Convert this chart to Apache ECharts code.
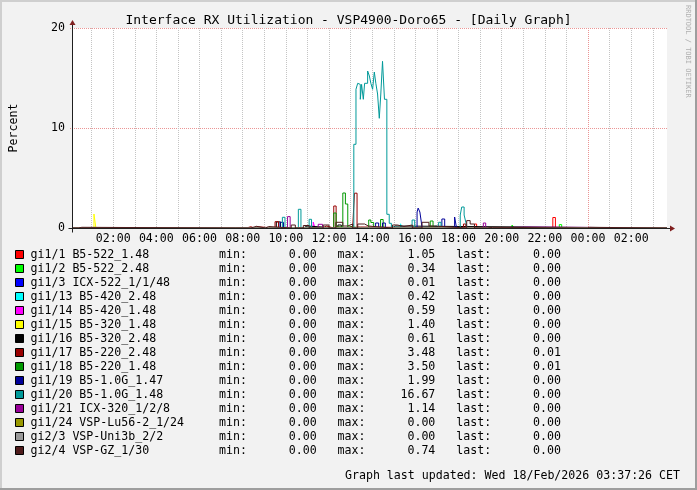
<!DOCTYPE html>
<html><head><meta charset="utf-8">
<script src="https://cdn.jsdelivr.net/npm/echarts@6/dist/echarts.min.js"></script>
<style>html,body{margin:0;padding:0;background:#F2F2F2}#c{width:697px;height:490px}</style>
</head><body><div id="c"></div>
<script>
// ---------- data ----------
const seriesNames = ['gi1/1 B5-522_1.48','gi1/2 B5-522_2.48','gi1/3 ICX-522_1/1/48','gi1/13 B5-420_2.48','gi1/14 B5-420_1.48','gi1/15 B5-320_1.48','gi1/16 B5-320_2.48','gi1/17 B5-220_2.48','gi1/18 B5-220_1.48','gi1/19 B5-1.0G_1.47','gi1/20 B5-1.0G_1.48','gi1/21 ICX-320_1/2/8','gi1/24 VSP-Lu56-2_1/24','gi2/3 VSP-Uni3b_2/2','gi2/4 VSP-GZ_1/30'];
const seriesColors = ['#FF0000','#00FF00','#0000FF','#00FFFF','#FF00FF','#FFFF00','#000000','#990000','#009900','#000099','#009999','#990099','#999900','#999999','#4F1C1C'];
const statMin  = ['0.00','0.00','0.00','0.00','0.00','0.00','0.00','0.00','0.00','0.00','0.00','0.00','0.00','0.00','0.00'];
const statMax  = ['1.05','0.34','0.01','0.42','0.59','1.40','0.61','3.48','3.50','1.99','16.67','1.14','0.00','0.00','0.74'];
const statLast = ['0.00','0.00','0.00','0.00','0.00','0.00','0.00','0.01','0.01','0.00','0.00','0.00','0.00','0.00','0.00'];
// x = hours since 17 Feb 00:00, y = percent (step values, each holds until the next point)
const gi1_1  = [[0.10,0],[18.74,0.40],[18.84,0],[22.37,1.05],[22.49,0],[27.66,0]];
const gi1_2  = [[0.10,0],[20.48,0.30],[20.57,0],[22.67,0.34],[22.78,0],[27.66,0]];
const gi1_3  = [[0.10,0],[13.57,0.01],[13.65,0],[27.66,0]];
const gi1_13 = [[0.10,0],[9.98,0.15],[10.06,0],[12.47,0.20],[12.55,0],[15.31,0.42],[15.40,0],[16.96,0.25],[17.04,0],[27.66,0]];
const gi1_14 = [[0.10,0],[11.27,0.59],[11.35,0],[19.26,0.10],[21.14,0],[27.66,0]];
const gi1_15 = [[0.10,0],[1.11,1.40],[1.20,0],[27.66,0]];
const gi1_16 = [[0.10,0],[9.56,0.61],[9.75,0],[10.81,0.20],[10.98,0],[12.41,0.30],[12.57,0],[14.94,0.20],[15.07,0],[27.66,0]];
const gi1_17 = [[0.10,0],[8.18,0.13],[8.38,0],[8.53,0.13],[8.64,0],[9.50,0.63],[9.66,0],[11.73,0.20],[11.88,0],[12.22,2.20],[12.33,0.10],[12.47,0],[12.87,0.20],[13.10,0],[13.18,3.48],[13.30,0.10],[13.47,0],[18.23,0.40],[18.34,0],[27.50,0.01],[27.66,0.01]];
const gi1_18 = [[0.10,0],[12.22,1.50],[12.33,0.10],[12.64,3.50],[12.76,2.40],[12.87,0.10],[13.02,0],[13.84,0.80],[13.94,0.55],[14.07,0],[14.39,0.85],[14.51,0],[16.69,0.70],[16.82,0],[27.50,0.01],[27.66,0.01]];
const gi1_19 = [[0.10,0],[9.73,0.57],[9.89,0],[14.16,0.50],[14.30,0],[14.48,0.50],[14.61,0],[16.08,1.60],[16.13,1.99],[16.21,1.60],[16.27,0.70],[16.31,0],[17.23,0.90],[17.36,0],[17.82,1.10],[17.91,0],[27.66,0]];
const gi1_20 = [[0.10,0],[9.84,1.07],[9.96,0.05],[10.58,1.87],[10.70,0.05],[11.08,0.87],[11.19,0.05],[11.38,0],
  [13.15,8.37],[13.25,13.87],[13.33,14.47],[13.40,14.36],[13.45,12.87],[13.51,14.36],[13.59,12.87],[13.65,14.47],[13.79,15.70],[13.87,15.20],[13.94,14.47],[14.02,13.87],[14.10,15.60],[14.17,14.47],[14.25,13.40],[14.33,10.97],[14.40,13.40],[14.48,16.67],[14.57,12.87],[14.68,1.37],[14.79,0.47],[14.89,0.10],[15.07,0],
  [15.85,0.80],[15.97,0],[17.08,0.57],[17.19,0],[18.08,1.30],[18.15,2.10],[18.26,1.30],[18.34,0.57],[18.40,0],[27.66,0]];
const gi1_21 = [[0.10,0],[10.08,1.14],[10.20,0],[11.50,0.37],[11.70,0],[19.15,0.50],[19.26,0],[27.66,0]];
const gi1_24 = [[0.10,0],[27.66,0]];
const gi2_3  = [[0.10,0],[27.66,0]];
const gi2_4  = [[0.10,0],[0.39,0.07],[0.55,0],[7.66,0.07],[7.74,0],[8.37,0.17],[8.64,0],[9.06,0.15],[9.20,0],[10.25,0.30],[10.44,0],[10.81,0.25],[11.08,0],[11.73,0.30],[12.00,0],[12.32,0.57],[12.64,0.20],[12.87,0.40],[13.10,0],[13.33,0.40],[13.65,0.20],[13.82,0],[14.94,0.30],[15.17,0.15],[15.47,0.30],[15.86,0],[16.31,0.57],[16.63,0.20],[16.86,0],[18.38,0.74],[18.54,0.40],[18.74,0],[19.35,0.07],[19.58,0],[23.98,0.07],[24.08,0],[27.66,0]];
const seriesData = [gi1_1,gi1_2,gi1_3,gi1_13,gi1_14,gi1_15,gi1_16,gi1_17,gi1_18,gi1_19,gi1_20,gi1_21,gi1_24,gi2_3,gi2_4];
const xTickHours  = [2,4,6,8,10,12,14,16,18,20,22,24,26];
const xTickLabels = ['02:00','04:00','06:00','08:00','10:00','12:00','14:00','16:00','18:00','20:00','22:00','00:00','02:00'];
const yTicks = [0,10,20];
const xStart = 0.10, xEnd = 27.66;   // visible time window (hours)
const dayBoundaryHour = 24;
const titleText = 'Interface RX Utilization - VSP4900-Doro65 - [Daily Graph]';
const footerText = 'Graph last updated: Wed 18/Feb/2026 03:37:26 CET';

// ---------- styling ----------
const MONO = 'DejaVu Sans Mono';
const FS = 11.6;
const GRID = '#C4C4C4';
const MGRID = '#EB9595';
const ARROW = '#801F1F';
const AXIS = '#1F1F1F';
const PLOT_L = 67, PLOT_R = 667;
// axis runs from hour 0 (min is a multiple of the 1 h interval); grid is placed so xStart sits at PLOT_L
const pxPerHour = (PLOT_R - PLOT_L) / (xEnd - xStart);
const gridLeft = PLOT_L - xStart * pxPerHour;
// split line colours, one per drawn hour line (min line hidden, so index 0 = hour 1)
const hourLineColors = [];
for (let h = 1; h <= Math.floor(xEnd); h++) hourLineColors.push(h === dayBoundaryHour ? MGRID : GRID);

const chart = echarts.init(document.getElementById('c'), null, {renderer:'canvas'});
chart.setOption({
  animation: false,
  backgroundColor: '#F2F2F2',
  title: { text: titleText, left: 'center', top: 9, textStyle: { fontFamily: MONO, fontSize: 13, fontWeight: 'normal', color: '#000' } },
  grid: { left: gridLeft, right: 697 - PLOT_R, top: 28, bottom: 262, show: false },
  xAxis: {
    type: 'value', min: 0, max: xEnd, interval: 1,
    axisLine: { show: false }, axisTick: { show: false },
    splitLine: { show: true, showMinLine: false, showMaxLine: false, lineStyle: { color: hourLineColors, width: 1, type: [1,1] } },
    axisLabel: { margin: 5, fontFamily: MONO, fontSize: FS, color: '#000', showMinLabel: false,
      formatter: v => { const i = xTickHours.indexOf(Math.round(v)); return (i >= 0 && Math.abs(v - Math.round(v)) < 1e-6) ? xTickLabels[i] : ''; } }
  },
  yAxis: {
    type: 'value', min: yTicks[0], max: yTicks[yTicks.length-1], interval: 10,
    name: 'Percent', nameLocation: 'middle', nameGap: 50, nameRotate: 90,
    nameTextStyle: { fontFamily: MONO, fontSize: FS, color: '#000' },
    axisLine: { show: false }, axisTick: { show: false },
    splitLine: { show: true, lineStyle: { color: MGRID, width: 1, type: [1,1] } },
    axisLabel: { margin: 5, fontFamily: MONO, fontSize: FS, color: '#000' }
  },
  legend: {
    orient: 'vertical', left: 15, top: 247.5, padding: 0, itemGap: 0, itemWidth: 8, itemHeight: 8, icon: 'rect',
    selectedMode: false,
    itemStyle: { borderColor: '#000', borderWidth: 1 },
    textStyle: { fontFamily: MONO, fontSize: FS, color: '#000', lineHeight: 14, padding: [0,0,0,2] },
    data: seriesNames,
    formatter: name => {
      const i = seriesNames.indexOf(name);
      return name.padEnd(27) + 'min:' + statMin[i].padStart(10) + '   max:' + statMax[i].padStart(10) + '   last:' + statLast[i].padStart(10);
    }
  },
  series: seriesNames.map((n, i) => ({
    name: n, type: 'line', step: 'end', data: seriesData[i], symbol: 'none',
    color: seriesColors[i], lineStyle: { width: 1, color: seriesColors[i] }, z: 10 + i
  }))
});

// canvas, axes with arrows, footer, watermark and frame
const p00 = chart.convertToPixel({xAxisIndex:0, yAxisIndex:0}, [xStart, 0]);
const p11 = chart.convertToPixel({xAxisIndex:0, yAxisIndex:0}, [xEnd, yTicks[yTicks.length-1]]);
const ox = Math.round(p00[0]) + 0.5, oy = Math.round(p00[1]) + 0.5;
const ex = Math.round(p11[0]), ty = Math.round(p11[1]);
chart.setOption({
  graphic: [
    { type: 'rect', shape: { x: Math.round(p00[0]), y: ty, width: ex - Math.round(p00[0]), height: Math.round(p00[1]) - ty }, style: { fill: '#FFFFFF' }, z: -100, silent: true },
    { type: 'line', shape: { x1: ox - 4, y1: oy, x2: ex + 4, y2: oy }, style: { stroke: AXIS, lineWidth: 1 }, z: 100 },
    { type: 'line', shape: { x1: ox, y1: oy + 4, x2: ox, y2: ty - 4 }, style: { stroke: AXIS, lineWidth: 1 }, z: 100 },
    { type: 'polygon', shape: { points: [[ex + 3, oy - 3], [ex + 3, oy + 3], [ex + 8, oy]] }, style: { fill: ARROW }, z: 101 },
    { type: 'polygon', shape: { points: [[ox - 3, ty - 3], [ox + 3, ty - 3], [ox, ty - 8]] }, style: { fill: ARROW }, z: 101 },
    { type: 'text', right: 17, top: 470, style: { text: footerText, font: FS + 'px ' + MONO, fill: '#000' }, z: 100 },
    { type: 'text', x: 688, y: 5, rotation: -Math.PI / 2, style: { text: 'RRDTOOL / TOBI OETIKER', font: '7px ' + MONO, fill: '#B0B0B0', align: 'left', verticalAlign: 'middle' }, z: 100 },
    { type: 'rect', shape: { x: 0, y: 0, width: 697, height: 2 }, style: { fill: '#CFCFCF' }, z: 100 },
    { type: 'rect', shape: { x: 0, y: 0, width: 2, height: 490 }, style: { fill: '#CFCFCF' }, z: 100 },
    { type: 'rect', shape: { x: 0, y: 488, width: 697, height: 2 }, style: { fill: '#9E9E9E' }, z: 101 },
    { type: 'rect', shape: { x: 695, y: 0, width: 2, height: 490 }, style: { fill: '#9E9E9E' }, z: 101 }
  ]
});
</script></body></html>
